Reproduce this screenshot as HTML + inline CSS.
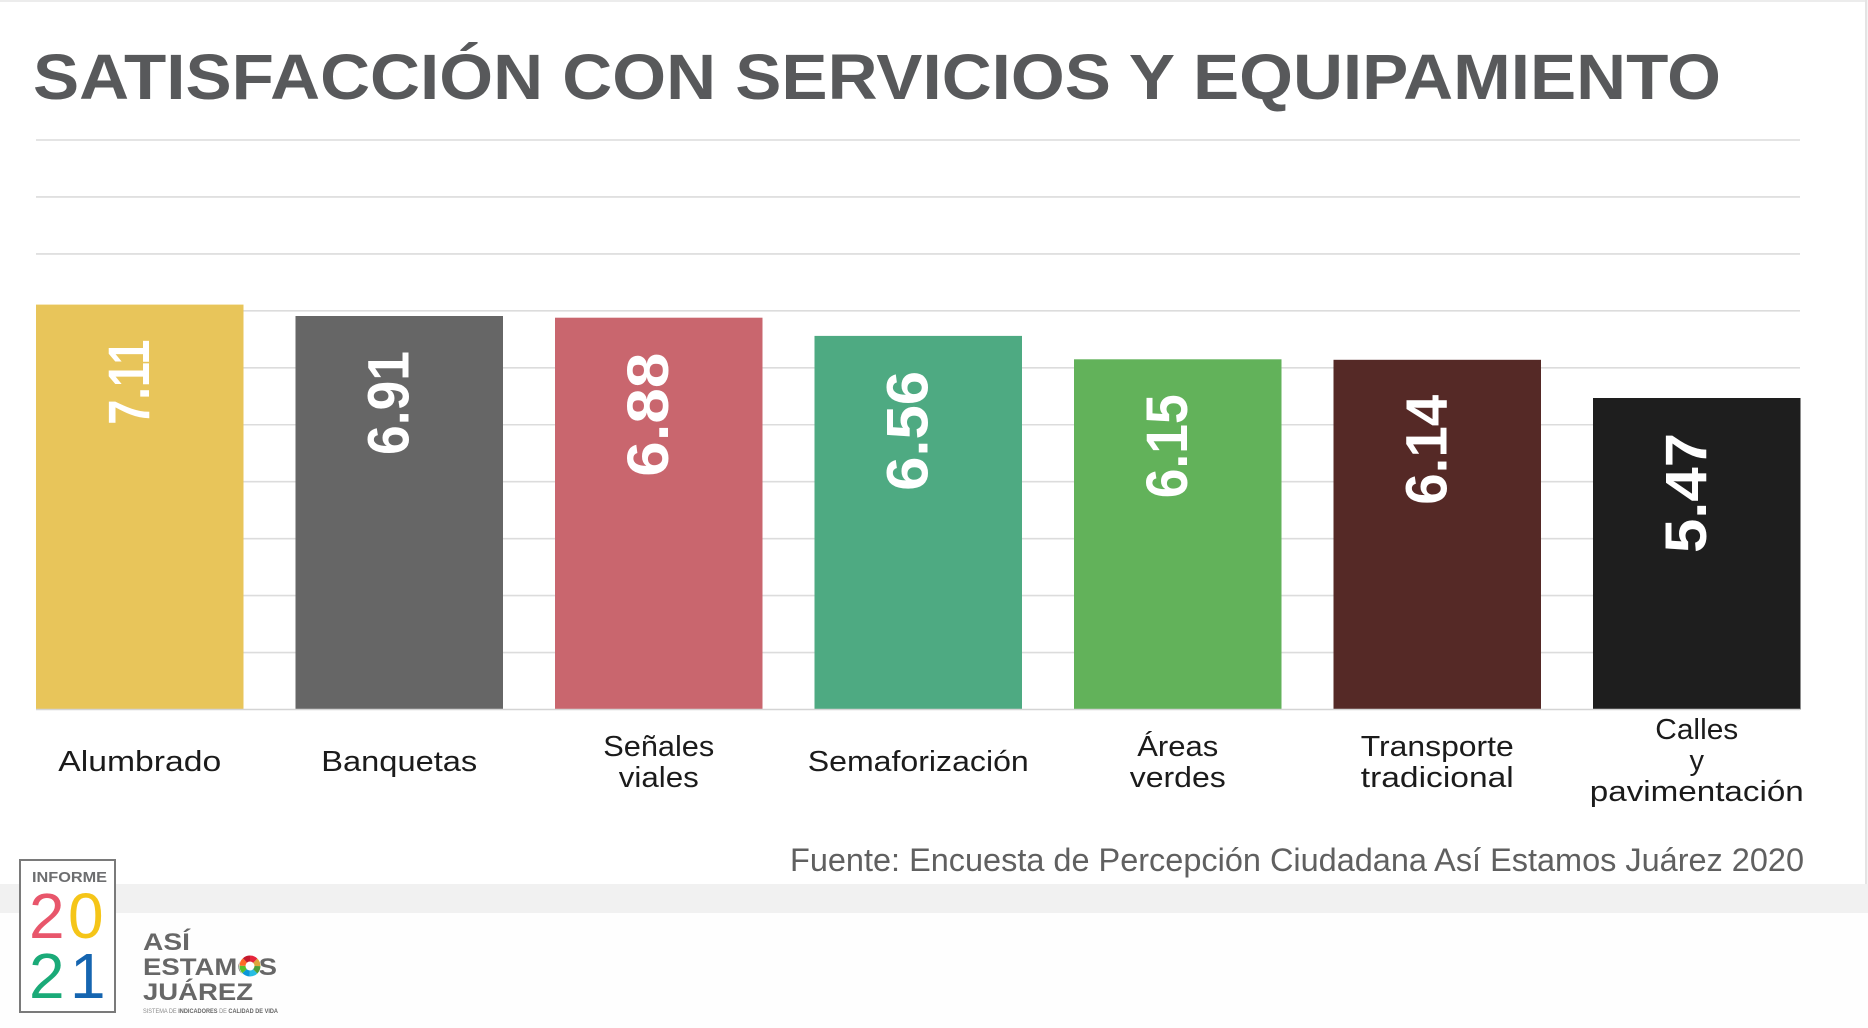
<!DOCTYPE html>
<html>
<head>
<meta charset="utf-8">
<style>
html,body{margin:0;padding:0;background:#ffffff;}
body{width:1868px;height:1028px;overflow:hidden;}
svg{display:block;}
</style>
</head>
<body>
<svg width="1868" height="1028" viewBox="0 0 1868 1028" xmlns="http://www.w3.org/2000/svg">
  <!-- page background -->
  <rect x="0" y="0" width="1868" height="1028" fill="#fefefe"/>
  <rect x="0" y="0" width="1866" height="884" fill="#ffffff"/>
  <rect x="0" y="0" width="1868" height="2" fill="#ececec"/>
  <rect x="1865" y="0" width="2" height="884" fill="#e4e4e4"/>
  <rect x="1867" y="0" width="1" height="884" fill="#f4f4f4"/>

  <!-- title -->
  <text x="33" y="99" font-family="'Liberation Sans', sans-serif" font-weight="bold" font-size="64" fill="#58595b" textLength="1688" lengthAdjust="spacingAndGlyphs">SATISFACCIÓN CON SERVICIOS Y EQUIPAMIENTO</text>

  <!-- gridlines -->
  <g stroke="#dcdcdc" stroke-width="1.6">
    <line x1="36" y1="140" x2="1800" y2="140"/>
    <line x1="36" y1="196.95" x2="1800" y2="196.95"/>
    <line x1="36" y1="253.9" x2="1800" y2="253.9"/>
    <line x1="36" y1="310.85" x2="1800" y2="310.85"/>
    <line x1="36" y1="367.8" x2="1800" y2="367.8"/>
    <line x1="36" y1="424.75" x2="1800" y2="424.75"/>
    <line x1="36" y1="481.7" x2="1800" y2="481.7"/>
    <line x1="36" y1="538.65" x2="1800" y2="538.65"/>
    <line x1="36" y1="595.6" x2="1800" y2="595.6"/>
    <line x1="36" y1="652.55" x2="1800" y2="652.55"/>
  </g>

  <!-- bars -->
  <rect x="36" y="304.6" width="207.5" height="404.9" fill="#e8c55a"/>
  <rect x="295.5" y="316" width="207.5" height="393.5" fill="#666666"/>
  <rect x="555" y="317.7" width="207.5" height="391.8" fill="#c9666e"/>
  <rect x="814.5" y="335.9" width="207.5" height="373.6" fill="#4eaa82"/>
  <rect x="1074" y="359.3" width="207.5" height="350.2" fill="#62b25a"/>
  <rect x="1333.5" y="359.8" width="207.5" height="349.7" fill="#552926"/>
  <rect x="1593" y="398" width="207.5" height="311.5" fill="#1e1e1e"/>

  <!-- baseline -->
  <line x1="36" y1="709.5" x2="1800" y2="709.5" stroke="#d4d4d4" stroke-width="1.6"/>

  <!-- value labels -->
  <g font-family="'Liberation Sans', sans-serif" font-weight="bold" font-size="58" fill="#ffffff">
    <text transform="translate(148.75,424.6) rotate(-90)" textLength="85" lengthAdjust="spacingAndGlyphs">7.11</text>
    <text transform="translate(408.25,455) rotate(-90)" textLength="104" lengthAdjust="spacingAndGlyphs">6.91</text>
    <text transform="translate(667.75,476.7) rotate(-90)" textLength="124" lengthAdjust="spacingAndGlyphs">6.88</text>
    <text transform="translate(927.25,490.9) rotate(-90)" textLength="120" lengthAdjust="spacingAndGlyphs">6.56</text>
    <text transform="translate(1186.75,498.3) rotate(-90)" textLength="104" lengthAdjust="spacingAndGlyphs">6.15</text>
    <text transform="translate(1446.25,504.8) rotate(-90)" textLength="110" lengthAdjust="spacingAndGlyphs">6.14</text>
    <text transform="translate(1705.75,553) rotate(-90)" textLength="120" lengthAdjust="spacingAndGlyphs">5.47</text>
  </g>

  <!-- category labels -->
  <g font-family="'Liberation Sans', sans-serif" font-size="29" fill="#1b1b1b" text-anchor="middle">
    <text x="139.75" y="771" textLength="163" lengthAdjust="spacingAndGlyphs">Alumbrado</text>
    <text x="399.25" y="771" textLength="156" lengthAdjust="spacingAndGlyphs">Banquetas</text>
    <text x="658.75" y="756" textLength="111" lengthAdjust="spacingAndGlyphs">Señales</text>
    <text x="658.75" y="787" textLength="80" lengthAdjust="spacingAndGlyphs">viales</text>
    <text x="918.25" y="771" textLength="221" lengthAdjust="spacingAndGlyphs">Semaforización</text>
    <text x="1177.75" y="756" textLength="81" lengthAdjust="spacingAndGlyphs">Áreas</text>
    <text x="1177.75" y="787" textLength="96" lengthAdjust="spacingAndGlyphs">verdes</text>
    <text x="1437.25" y="756" textLength="153" lengthAdjust="spacingAndGlyphs">Transporte</text>
    <text x="1437.25" y="787" textLength="153" lengthAdjust="spacingAndGlyphs">tradicional</text>
    <text x="1696.75" y="739" textLength="83" lengthAdjust="spacingAndGlyphs">Calles</text>
    <text x="1696.75" y="770">y</text>
    <text x="1696.75" y="801" textLength="214" lengthAdjust="spacingAndGlyphs">pavimentación</text>
  </g>

  <!-- source -->
  <text x="790" y="871" font-family="'Liberation Sans', sans-serif" font-size="32" fill="#606060" textLength="1014" lengthAdjust="spacingAndGlyphs">Fuente: Encuesta de Percepción Ciudadana Así Estamos Juárez 2020</text>

  <!-- gray band -->
  <rect x="0" y="884" width="1868" height="29" fill="#f1f1f1"/>

  <!-- logo box -->
  <rect x="20" y="860" width="95" height="152" fill="#ffffff" stroke="#7a7a7a" stroke-width="2"/>
  <text x="32" y="882" font-family="'Liberation Sans', sans-serif" font-weight="bold" font-size="15" fill="#6d6e70" textLength="75" lengthAdjust="spacingAndGlyphs">INFORME</text>
  <text y="938" font-family="'Liberation Sans', sans-serif" font-size="64"><tspan x="29" fill="#e8566b">2</tspan><tspan x="68" fill="#f5c518">0</tspan></text>
  <text y="998" font-family="'Liberation Sans', sans-serif" font-size="64"><tspan x="29" fill="#1aaa78">2</tspan><tspan x="70" fill="#1565b0">1</tspan></text>

  <!-- Así Estamos Juárez -->
  <g font-family="'Liberation Sans', sans-serif" font-weight="bold" font-size="24" fill="#676767">
    <text x="143" y="950" textLength="47" lengthAdjust="spacingAndGlyphs">ASÍ</text>
    <text x="143" y="975" textLength="134" lengthAdjust="spacingAndGlyphs">ESTAMOS</text>
    <text x="143" y="1000" textLength="110" lengthAdjust="spacingAndGlyphs">JUÁREZ</text>
  </g>
  <!-- SDG ring over the O -->
  <circle cx="250" cy="966" r="11" fill="#ffffff"/>
  <g fill="none" stroke-width="6" transform="rotate(-90 250 966)">
    <circle cx="250" cy="966" r="7.5" stroke="#e5243b" stroke-dasharray="5.9 41.3" stroke-dashoffset="0"/>
    <circle cx="250" cy="966" r="7.5" stroke="#dda63a" stroke-dasharray="5.9 41.3" stroke-dashoffset="-5.9"/>
    <circle cx="250" cy="966" r="7.5" stroke="#4c9f38" stroke-dasharray="5.9 41.3" stroke-dashoffset="-11.8"/>
    <circle cx="250" cy="966" r="7.5" stroke="#26bde2" stroke-dasharray="5.9 41.3" stroke-dashoffset="-17.7"/>
    <circle cx="250" cy="966" r="7.5" stroke="#0a97d9" stroke-dasharray="5.9 41.3" stroke-dashoffset="-23.6"/>
    <circle cx="250" cy="966" r="7.5" stroke="#56c02b" stroke-dasharray="5.9 41.3" stroke-dashoffset="-29.5"/>
    <circle cx="250" cy="966" r="7.5" stroke="#fd6925" stroke-dasharray="5.9 41.3" stroke-dashoffset="-35.4"/>
    <circle cx="250" cy="966" r="7.5" stroke="#c5192d" stroke-dasharray="5.9 41.3" stroke-dashoffset="-41.3"/>
  </g>
  <text x="143" y="1013" font-family="'Liberation Sans', sans-serif" font-size="6" fill="#8a8a8a" textLength="135" lengthAdjust="spacingAndGlyphs">SISTEMA DE <tspan font-weight="bold" fill="#666">INDICADORES</tspan> DE <tspan font-weight="bold" fill="#666">CALIDAD DE VIDA</tspan></text>
</svg>
</body>
</html>
